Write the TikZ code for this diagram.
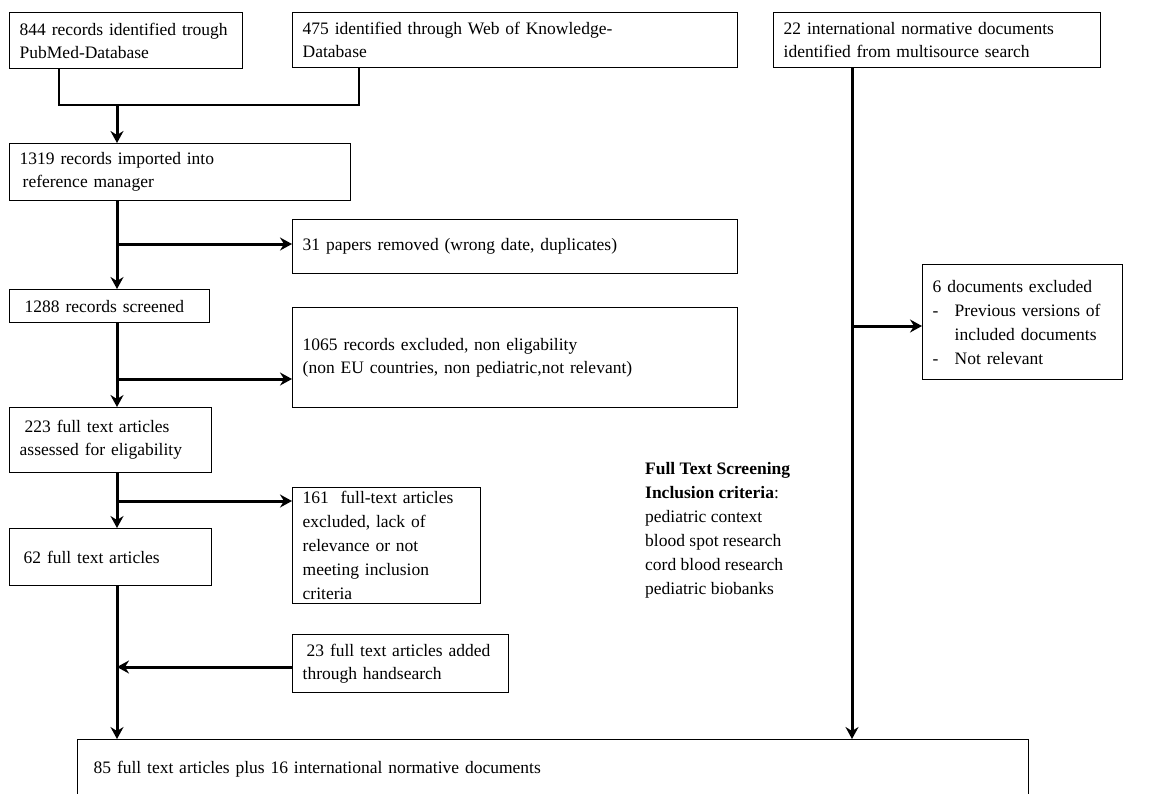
\documentclass[tikz,border=0pt]{standalone}
\usepackage{fontspec}
\setmainfont{Liberation Serif}
\usetikzlibrary{arrows.meta,calc}
\begin{document}
\begin{tikzpicture}[x=1pt,y=-1pt,
  every node/.style={font=\fontsize{17.5}{23}\selectfont},
  box/.style={draw, line width=1.4pt, inner xsep=10pt, inner ysep=0pt, align=left, anchor=north west},
  thinconn/.style={line width=1.1pt},
  arr/.style={line width=3pt, -{Stealth[length=12pt,width=13pt,inset=4pt]}}
]
\useasboundingbox (0,0) rectangle (1166,793);
\clip (0,0) rectangle (1166,793);
\fill[white] (0,0) rectangle (1166,793);

\node[box, text width=213pt, minimum height=56pt] (b1) at (9,12) {844 records identified trough\\PubMed-Database};
\node[box, text width=425pt, minimum height=55pt] (b2) at (292,12) {475 identified through Web of Knowledge-\\Database};
\node[box, text width=307pt, minimum height=55pt] (b3) at (773,12) {22 international normative documents\\identified from multisource search};
\node[box, text width=321pt, minimum height=57pt] (b4) at (9,143) {1319 records imported into\\\hspace*{3pt}reference manager};
\node[box, text width=425pt, minimum height=54pt] (b5) at (292,219) {31 papers removed (wrong date, duplicates)};
\node[box, text width=180pt, minimum height=33pt] (b6) at (9,289) {\hspace*{5pt}1288 records screened};
\node[box, text width=425pt, minimum height=100pt] (b7) at (292,307) {1065 records excluded, non eligability\\(non EU countries, non pediatric,not relevant)};
\node[box, text width=182pt, minimum height=65pt] (b8) at (9,407) {\hspace*{5pt}223 full text articles\\assessed for eligability};
\node[box, text width=168pt, minimum height=116pt, font=\fontsize{17.5}{24}\selectfont] (b9) at (292,487) {161\ \ full-text articles\\excluded, lack of\\relevance or not\\meeting inclusion\\criteria};
\node[box, text width=182pt, minimum height=57pt] (b10) at (9,528) {\hspace*{4pt}62 full text articles};
\node[box, text width=196pt, minimum height=58pt] (b11) at (292,634) {\hspace*{4pt}23 full text articles added\\through handsearch};
\node[box, text width=931pt, minimum height=58pt] (b12) at (77,739) {\hspace*{6pt}85 full text articles plus 16 international normative documents};
\node[box, text width=180pt, minimum height=115pt, font=\fontsize{17.5}{24}\selectfont] (b13) at (922,264) {6 documents excluded\\\makebox[22pt][l]{-}Previous versions of\\\hspace*{22pt}included documents\\\makebox[22pt][l]{-}Not relevant};
\node[anchor=north west, align=left, inner sep=0pt, font=\fontsize{17.5}{24}\selectfont] (crit) at (645,462) {\textbf{Full Text Screening}\\\textbf{Inclusion criteria}:\\pediatric context\\blood spot research\\cord blood research\\pediatric biobanks};

% merge of the two database searches
\coordinate (m1) at (59,105);
\coordinate (m2) at (359,105);
\coordinate (mid) at (117,105);
\draw[thinconn] (b1.south -| m1) -- (m1) -- (m2) -- (b2.south -| m2);
\draw[arr] (mid) -- (b4.north -| mid);

% main column
\coordinate (c1) at (117,244);
\coordinate (c2) at (117,379);
\coordinate (c3) at (117,501);
\coordinate (c4) at (117,667);
\draw[arr] (b4.south -| c1) -- (b6.north -| c1);
\draw[arr] (c1) -- (c1 -| b5.west);
\draw[arr] (b6.south -| c2) -- (b8.north -| c2);
\draw[arr] (c2) -- (c2 -| b7.west);
\draw[arr] (b8.south -| c3) -- (b10.north -| c3);
\draw[arr] (c3) -- (c3 -| b9.west);
\draw[arr] (b10.south -| c4) -- (b12.north -| c4);
\draw[arr] (c4 -| b11.west) -- (c4);

% right column
\coordinate (r1) at (852,326);
\draw[arr] (b3.south -| r1) -- (b12.north -| r1);
\draw[arr] (r1) -- (r1 -| b13.west);
\end{tikzpicture}
\end{document}
